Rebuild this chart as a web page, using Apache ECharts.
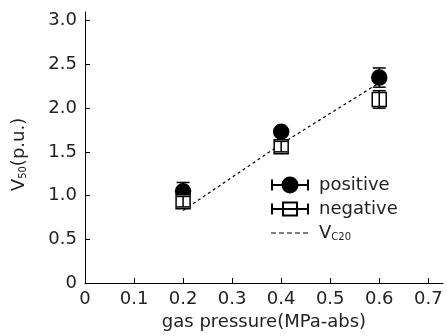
<!DOCTYPE html>
<html><head><meta charset="utf-8">
<script src="https://cdn.jsdelivr.net/npm/echarts@6/dist/echarts.min.js"></script>
<style>html,body{margin:0;padding:0;background:#fff}#c{width:447px;height:336px}</style>
</head><body><div id="c"></div>
<script>
var pressures = [0.2, 0.4, 0.6];
var positiveV50 = [1.05, 1.73, 2.35];
var positiveErr = [0.10, 0.04, 0.11];
var negativeV50 = [0.93, 1.56, 2.10];
var negativeErr = [0.06, 0.06, 0.10];
var vc20 = [0.83, 1.59, 2.29];
var xTicks = [0, 0.1, 0.2, 0.3, 0.4, 0.5, 0.6, 0.7];
var yTicks = [0, 0.5, 1.0, 1.5, 2.0, 2.5, 3.0];

var FONT = 'DejaVu Sans';
var TXT = '#222';
var FS = 18;

function pairs(xs, ys){ return xs.map(function(x,i){ return [x, ys[i]]; }); }
function errData(xs, ys, es){ return xs.map(function(x,i){ return [x, ys[i]-es[i], ys[i]+es[i]]; }); }

function errRender(params, api){
  var x = api.value(0);
  var lo = api.coord([x, api.value(1)]);
  var hi = api.coord([x, api.value(2)]);
  var w = 6.5;
  var st = {stroke:'#000', lineWidth:1.5, fill:null};
  return {type:'group', children:[
    {type:'line', shape:{x1:lo[0], y1:lo[1], x2:hi[0], y2:hi[1]}, style:st},
    {type:'line', shape:{x1:lo[0]-w, y1:lo[1], x2:lo[0]+w, y2:lo[1]}, style:st},
    {type:'line', shape:{x1:hi[0]-w, y1:hi[1], x2:hi[0]+w, y2:hi[1]}, style:st}
  ]};
}

var posIcon = 'path://M1,2 L1,13 M1,7.5 L37,7.5 M37,2 L37,13 M26.5,7.5 A7.5,7.5 0 1 1 11.5,7.5 A7.5,7.5 0 1 1 26.5,7.5 Z M0,0 L0,0 M38,15 L38,15';
var negIcon = 'path://M1,2 L1,13 M1,7.5 L37,7.5 M37,2 L37,13 M12,1 L26,1 L26,14 L12,14 Z M0,0 L0,0 M38,15 L38,15';
var dashIcon = 'path://M0,0 L0,0 M0,6.9 L5,6.9 L5,8.1 L0,8.1 Z M8,6.9 L13,6.9 L13,8.1 L8,8.1 Z M16,6.9 L21,6.9 L21,8.1 L16,8.1 Z M24,6.9 L29,6.9 L29,8.1 L24,8.1 Z M32,6.9 L37,6.9 L37,8.1 L32,8.1 Z M38,15 L38,15';

var richSub = {a:{fontSize:FS, fontFamily:FONT, color:TXT}, b:{fontSize:10, fontFamily:FONT, color:TXT, verticalAlign:'bottom', padding:[7,0,0,0]}};

var chart = echarts.init(document.getElementById('c'), null, {renderer:'canvas'});
chart.setOption({
  animation:false,
  backgroundColor:'#fff',
  grid:{left:85, right:4, top:12, bottom:51},
  legend:{
    orient:'vertical', left:265, top:171, itemWidth:38, itemHeight:15, itemGap:6, padding:5,
    symbolKeepAspect:false,
    data:[{name:'positive', icon:posIcon},{name:'negative', icon:negIcon},{name:'Vc20', icon:dashIcon, itemStyle:{color:'#000', borderWidth:0}}],
    formatter:function(n){ return n==='Vc20' ? '{a|V}{b|C20}' : '{a|'+n+'}'; },
    textStyle:{color:TXT, fontFamily:FONT, fontSize:FS, padding:[0,0,0,5], rich:richSub}
  },
  xAxis:{
    type:'value', min:0, max:0.73,
    name:'gas pressure(MPa-abs)', nameLocation:'middle', nameGap:30,
    nameTextStyle:{color:TXT, fontFamily:FONT, fontSize:FS},
    axisLine:{lineStyle:{color:'#000', width:1}},
    axisTick:{inside:true, length:5, lineStyle:{color:'#000'}, customValues:xTicks},
    axisLabel:{color:TXT, fontFamily:FONT, fontSize:FS, margin:7, customValues:xTicks,
      formatter:function(v){ return v===0 ? '0' : v.toFixed(1); }},
    splitLine:{show:false}
  },
  yAxis:{
    type:'value', min:0, max:3.1,
    name:'{a|V}{b|50}{a|(p.u.)}', nameLocation:'middle', nameGap:57,
    nameTextStyle:{color:TXT, fontFamily:FONT, fontSize:FS, padding:[0,14,0,0], rich:richSub},
    axisLine:{show:true, lineStyle:{color:'#000', width:1}},
    axisTick:{show:true, inside:true, length:5, lineStyle:{color:'#000'}, customValues:yTicks},
    axisLabel:{color:TXT, fontFamily:FONT, fontSize:FS, margin:8, customValues:yTicks,
      formatter:function(v){ return v===0 ? '0' : v.toFixed(1); }},
    splitLine:{show:false}
  },
  series:[
    {name:'Vc20', type:'line', data:pairs(pressures, vc20), symbol:'none', showSymbol:false, z:1,
      lineStyle:{color:'#000', width:1.2, type:[3,3]}, itemStyle:{color:'#000'}},
    {name:'positive', type:'scatter', data:pairs(pressures, positiveV50), symbol:'circle', symbolSize:15, z:2,
      itemStyle:{color:'#000', borderColor:'#000', borderWidth:1.5, opacity:1}},
    {name:'positive', type:'custom', data:errData(pressures, positiveV50, positiveErr), renderItem:errRender, z:3},
    {name:'negative', type:'scatter', data:pairs(pressures, negativeV50), symbol:'rect', symbolSize:14, z:4,
      itemStyle:{color:'#fff', borderColor:'#000', borderWidth:1.5, opacity:1}},
    {name:'negative', type:'custom', data:errData(pressures, negativeV50, negativeErr), renderItem:errRender, z:5}
  ]
});
</script></body></html>
